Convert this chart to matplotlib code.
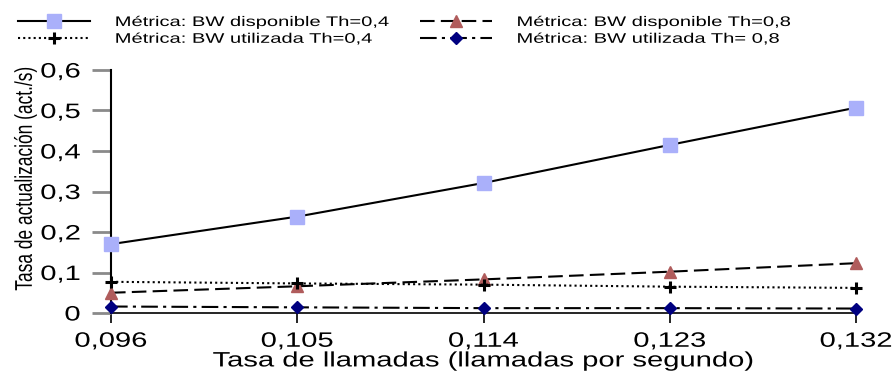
import numpy as np
import matplotlib
matplotlib.use("Agg")
import matplotlib.pyplot as plt
from matplotlib.ticker import FuncFormatter
from matplotlib.patheffects import AbstractPathEffect
from matplotlib.transforms import Affine2D

plt.rcParams['font.family'] = ['Liberation Sans', 'DejaVu Sans']

# datos
x_labels = ['0,096', '0,105', '0,114', '0,123', '0,132']
disp_04 = [0.170, 0.238, 0.321, 0.415, 0.507]
disp_08 = [0.050, 0.066, 0.083, 0.102, 0.123]
util_04 = [0.077, 0.073, 0.070, 0.065, 0.062]
util_08 = [0.016, 0.014, 0.012, 0.012, 0.011]
y_ticks = [0, 0.1, 0.2, 0.3, 0.4, 0.5, 0.6]


# el texto del original esta ensanchado en horizontal
class Stretch(AbstractPathEffect):
    def __init__(self, sx=1.4, anchor='center'):
        super().__init__()
        self.sx = sx
        self.anchor = anchor

    def draw_path(self, renderer, gc, tpath, affine, rgbFace=None):
        ext = tpath.get_extents(affine)
        if self.anchor == 'left':
            x0 = ext.x0
        elif self.anchor == 'right':
            x0 = ext.x1
        else:
            x0 = 0.5 * (ext.x0 + ext.x1)
        a = affine + Affine2D().translate(-x0, 0).scale(self.sx, 1).translate(x0, 0)
        renderer.draw_path(gc, tpath, a, rgbFace)


xi = np.arange(len(x_labels))

fig = plt.figure(figsize=(8.92, 3.71), dpi=100)
ax = fig.add_axes([111/892, 1-313/371, (856-111)/892, (313-70)/371])

h1, = ax.plot(xi, disp_04, color='black', lw=1.5, ls='-', marker='s', ms=10,
              mfc='#aab0fa', mec='#aab0fa', clip_on=False, zorder=3,
              label='Métrica: BW disponible Th=0,4')
h2, = ax.plot(xi, disp_08, color='black', lw=1.5, ls=(0, (7, 3)), marker='^', ms=9,
              mfc='#b05c5c', mec='#b05c5c', clip_on=False, zorder=3,
              label='Métrica: BW disponible Th=0,8')
h3, = ax.plot(xi, util_04, color='black', lw=1.5, ls=(0, (1, 1.5)), marker='+', ms=9,
              mew=2.2, mfc='black', mec='black', clip_on=False, zorder=3,
              label='Métrica: BW utilizada Th=0,4')
h4, = ax.plot(xi, util_08, color='black', lw=1.5, ls=(0, (8, 2.5, 1.5, 2.5)), marker='D', ms=6,
              mfc='#000080', mec='#000080', clip_on=False, zorder=3,
              label='Métrica: BW utilizada Th= 0,8')

ax.set_xlim(0, 4)
ax.set_ylim(0, 0.6)
ax.set_xticks(xi)
ax.set_xticklabels(x_labels)
ax.set_yticks(y_ticks)
ax.yaxis.set_major_formatter(FuncFormatter(lambda v, p: '0' if v == 0 else ('%.1f' % v).replace('.', ',')))

for s in ['top', 'right']:
    ax.spines[s].set_visible(False)
ax.spines['left'].set_linewidth(1.5)
ax.spines['bottom'].set_linewidth(1.2)
ax.tick_params(axis='y', direction='out', length=14, width=2, color='#8a8a8a', labelsize=15, pad=8)
ax.tick_params(axis='x', direction='out', length=7.5, width=1.2, color='black', labelsize=15, pad=6)

for t in ax.xaxis.get_major_ticks():
    t.label1.set_path_effects([Stretch(1.4, 'center')])
for t in ax.yaxis.get_major_ticks():
    t.label1.set_path_effects([Stretch(1.4, 'right')])

xl = ax.set_xlabel('Tasa de llamadas (llamadas por segundo)', fontsize=15, labelpad=0.5)
xl.set_path_effects([Stretch(1.4, 'center')])
yl = ax.set_ylabel('Tasa de actualización (act./s)', fontsize=12.5)
ax.yaxis.set_label_coords((33 - 111) / 745, (313 - 178) / 243)
yl.set_path_effects([Stretch(1.4, 'center')])

leg = fig.legend(handles=[h1, h3, h2, h4], ncol=2, loc='upper left',
                 bbox_to_anchor=(18/892, 1-15/371), frameon=False, fontsize=10,
                 handlelength=5.2, handletextpad=1.8, columnspacing=8.3,
                 labelspacing=0.2, borderpad=0, borderaxespad=0)
for t in leg.get_texts():
    t.set_path_effects([Stretch(1.45, 'left')])

fig.savefig('out.png', dpi=100)
